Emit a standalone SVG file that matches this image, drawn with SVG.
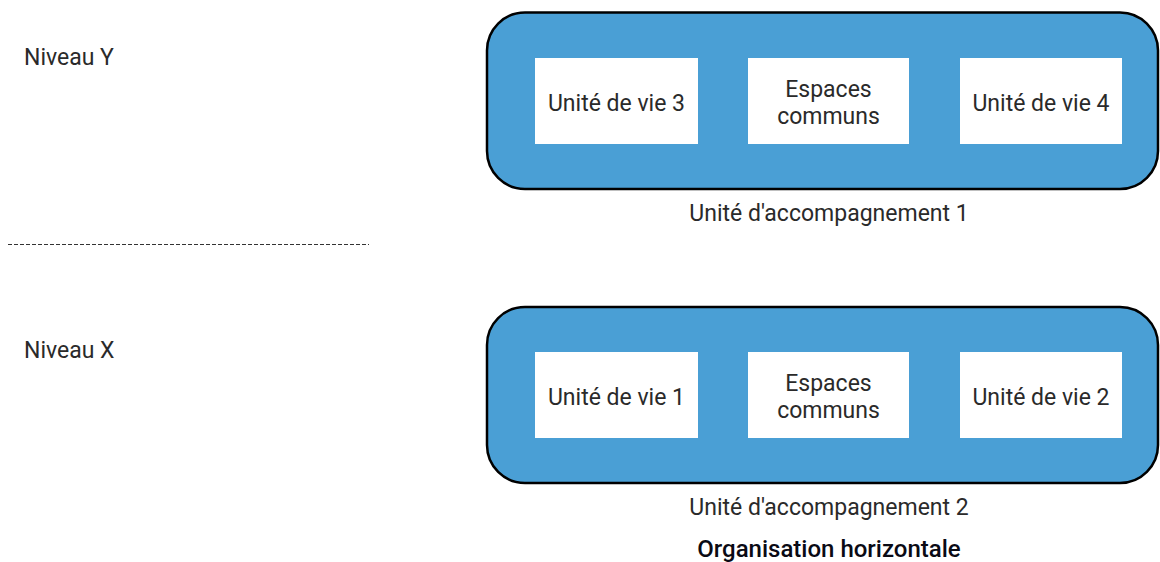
<svg xmlns="http://www.w3.org/2000/svg" width="1160" height="562" viewBox="0 0 1160 562">
<style>
.cont{fill:#4a9fd5;stroke:#000;stroke-width:2.5}
.box{fill:#fff}
.t{font-family:Roboto,"Liberation Sans",sans-serif;font-size:23px;fill:#2a2a2a;font-weight:400}
.m{text-anchor:middle}
.title{font-family:Roboto,"Liberation Sans",sans-serif;font-size:24px;font-weight:500;fill:#0a0a14;text-anchor:middle}
.dash{stroke:#333;stroke-width:1.2;stroke-dasharray:4 2;fill:none}
</style>
<rect width="1160" height="562" fill="#fff"/>
<g id="connectors">
<line class="dash" x1="8" y1="244.5" x2="369" y2="244.5"/>
</g>
<g id="niveau-y"><text class="t" x="24" y="65">Niveau Y</text></g>
<g id="niveau-x"><text class="t" x="24" y="358">Niveau X</text></g>
<g id="ua1">
<rect class="cont" x="487" y="12.5" width="671" height="176.5" rx="38" ry="38"/>
<text class="t m" x="829" y="221">Unité d'accompagnement 1</text>
</g>
<g id="uv3"><rect class="box" x="535" y="58" width="163" height="86"/><text class="t m" x="616.5" y="111">Unité de vie 3</text></g>
<g id="ec1"><rect class="box" x="748" y="58" width="161" height="86"/><text class="t m" x="828.5" y="97">Espaces</text><text class="t m" x="828.5" y="124">communs</text></g>
<g id="uv4"><rect class="box" x="960" y="58" width="162" height="86"/><text class="t m" x="1041" y="111">Unité de vie 4</text></g>
<g id="ua2">
<rect class="cont" x="487" y="307" width="671" height="176" rx="38" ry="38"/>
<text class="t m" x="829" y="515">Unité d'accompagnement 2</text>
</g>
<g id="uv1"><rect class="box" x="535" y="352" width="163" height="86"/><text class="t m" x="616.5" y="405">Unité de vie 1</text></g>
<g id="ec2"><rect class="box" x="748" y="352" width="161" height="86"/><text class="t m" x="828.5" y="391">Espaces</text><text class="t m" x="828.5" y="418">communs</text></g>
<g id="uv2"><rect class="box" x="960" y="352" width="162" height="86"/><text class="t m" x="1041" y="405">Unité de vie 2</text></g>
<g id="caption"><text class="title" x="829" y="557">Organisation horizontale</text></g>
</svg>
